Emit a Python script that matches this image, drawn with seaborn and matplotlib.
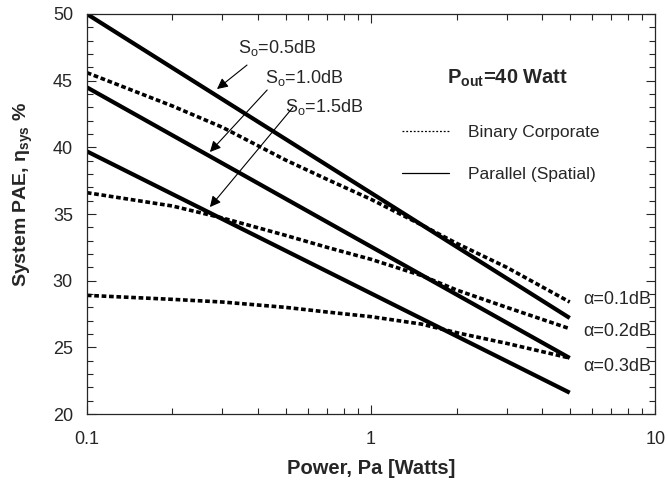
import seaborn as sns
import matplotlib.pyplot as plt
import pandas as pd
import numpy as np
from matplotlib.lines import Line2D

# power points (Watts)
power = [0.1, 0.2, 0.3, 0.5, 0.7, 1, 1.5, 2, 3, 5]

# Parallel (spatial) combining, straight lines on log-x -> endpoints only
par_power = [0.1, 5]
parallel = {
    "S_o=0.5dB": [50.0, 27.2],
    "S_o=1.0dB": [44.5, 24.2],
    "S_o=1.5dB": [39.7, 21.6],
}
# Binary corporate combining
binary = {
    "a=0.1dB": [45.6, 43.1, 41.5, 39.05, 37.6, 36.1, 34.2, 32.8, 31.0, 28.4],
    "a=0.2dB": [36.6, 35.6, 34.7, 33.4, 32.5, 31.6, 30.4, 29.3, 28.0, 26.4],
    "a=0.3dB": [28.9, 28.6, 28.4, 28.0, 27.65, 27.3, 26.75, 26.1, 25.3, 24.2],
}
alpha_labels = ["\u03b1=0.1dB", "\u03b1=0.2dB", "\u03b1=0.3dB"]
alpha_label_y = [28.6, 26.2, 23.6]

# S_o annotation: text pos, arrow tail, arrow tip
s_labels = ["0.5", "1.0", "1.5"]
s_text = [(0.340, 47.07), (0.424, 44.82), (0.498, 42.65)]
s_tail = [(0.366, 46.17), (0.431, 44.3), (0.531, 43.0)]
s_tip = [(0.287, 44.37), (0.271, 39.65), (0.271, 35.52)]

sns.set_style("ticks")
plt.rcParams['font.family'] = ['Liberation Sans', 'DejaVu Sans']
plt.rcParams['mathtext.fontset'] = 'custom'
plt.rcParams['mathtext.rm'] = 'Liberation Sans'
plt.rcParams['mathtext.bf'] = 'Liberation Sans:bold'
plt.rcParams['mathtext.it'] = 'Liberation Sans:italic'

fig = plt.figure(figsize=(6.68, 4.82), dpi=100)
ax = fig.add_axes([0.130, 0.141, 0.851, 0.830])
ax.set_xscale('log')

for name, vals in parallel.items():
    df = pd.DataFrame({"x": par_power, "y": vals})
    sns.lineplot(data=df, x="x", y="y", ax=ax, color='black', lw=3.0,
                 solid_capstyle='butt')

for name, vals in binary.items():
    df = pd.DataFrame({"x": power, "y": vals})
    sns.lineplot(data=df, x="x", y="y", ax=ax, color='black', lw=2.6,
                 linestyle=(0, (1.3, 0.75)))

ax.set_xlim(0.1, 10)
ax.set_ylim(20, 50)
ax.set_yticks(np.arange(20, 51, 5))
ax.set_yticks(np.arange(20, 51, 1), minor=True)
ax.set_xticks([0.1, 1, 10])
ax.set_xticklabels(["0.1", "1", "10"])

for s in ax.spines.values():
    s.set_linewidth(0.9)
ax.tick_params(which='both', direction='in', top=True, right=True, width=0.8,
               labelsize=13)
ax.tick_params(which='major', length=6.5)
ax.tick_params(which='minor', length=4)
ax.tick_params(axis='y', pad=10)
ax.tick_params(axis='x', pad=12)

ax.set_xlabel("Power, Pa [Watts]", fontsize=14.5, fontweight='bold')
ax.xaxis.set_label_coords(0.5, -0.113)
ax.set_ylabel("System PAE, \u03b7$_{\\mathbf{sys}}$ %", fontsize=14,
              fontweight='bold')
ax.yaxis.set_label_coords(-0.092, 0.55)

for lab, (tx, ty), (ax0, ay0), (bx, by) in zip(s_labels, s_text, s_tail, s_tip):
    ax.text(tx, ty, "S$_{\\mathrm{o}}$=" + lab + "dB", fontsize=13,
            ha='left', va='baseline')
    ax.annotate("", xy=(bx, by), xytext=(ax0, ay0),
                arrowprops=dict(arrowstyle='-|>', color='black', lw=0.8,
                                mutation_scale=16, shrinkA=0, shrinkB=0))

for lab, y in zip(alpha_labels, alpha_label_y):
    ax.text(5.6, y, lab, fontsize=13, ha='left', va='center')

ax.text(1.85, 45.2, "$\\mathbf{P_{out}}$=40 Watt", fontsize=14.5,
        fontweight='bold', ha='left', va='center')

handles = [Line2D([], [], color='black', lw=0.9, linestyle=(0, (1.5, 1.5))),
           Line2D([], [], color='black', lw=0.9)]
ax.legend(handles, ["Binary Corporate", "Parallel (Spatial)"], frameon=False,
          fontsize=12.5, loc='upper left', bbox_to_anchor=(0.555, 0.722),
          borderaxespad=0, borderpad=0, handlelength=2.7,
          handletextpad=1.1, labelspacing=1.55)

fig.savefig("out.png", dpi=100)
